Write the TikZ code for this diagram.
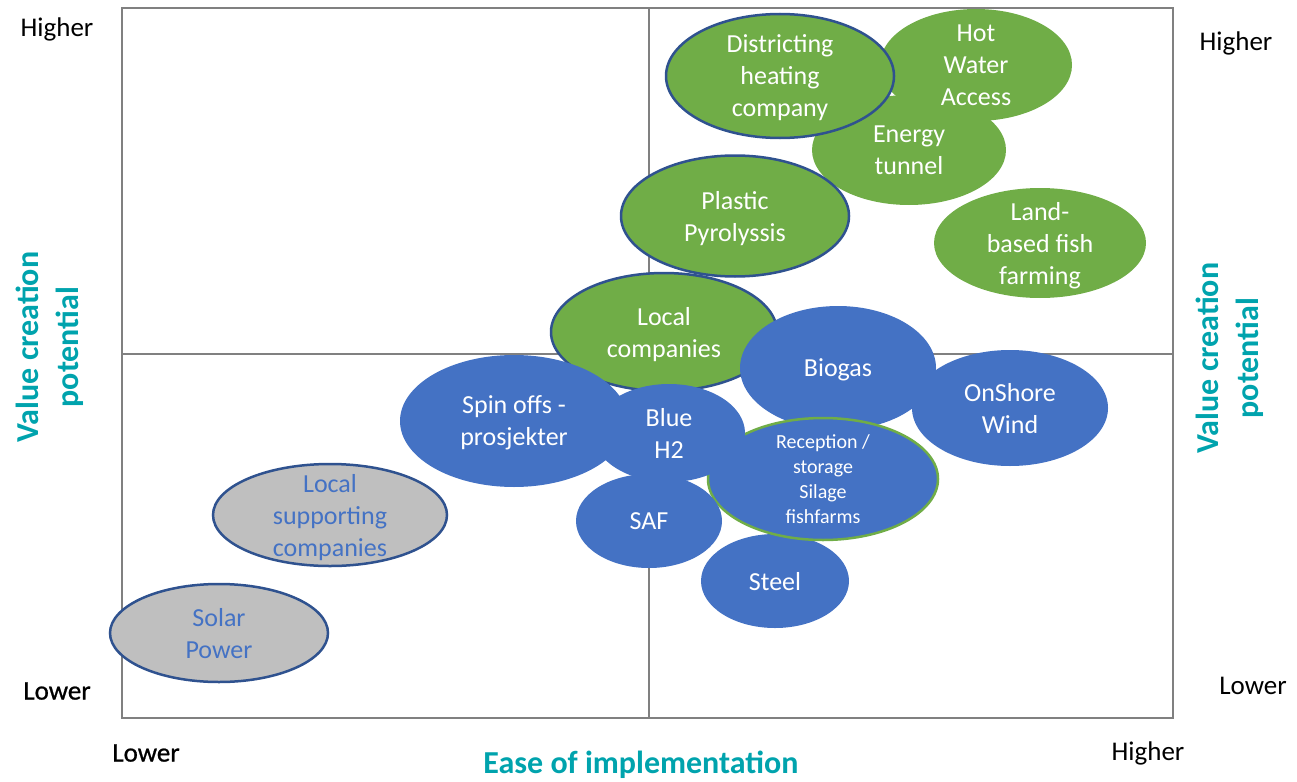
\documentclass[tikz,border=0pt]{standalone}
\usepackage{fontspec}
\setmainfont{Carlito}
\usepackage{tikz}
\usetikzlibrary{shapes.geometric}
\definecolor{bubblegreen}{RGB}{112,173,71}
\definecolor{bubbleblue}{RGB}{68,114,196}
\definecolor{bubbleedge}{RGB}{47,82,143}
\definecolor{bubblegrey}{RGB}{191,191,191}
\definecolor{titlecolor}{RGB}{0,163,173}
\definecolor{framecolor}{RGB}{128,128,128}
\tikzset{
    bubble/.style={ellipse, inner sep=-12pt, align=center, text=white, text depth=-4pt,
        font=\fontsize{26}{32}\selectfont},
    green bubble/.style={bubble, fill=bubblegreen},
    blue bubble/.style={bubble, fill=bubbleblue},
    grey bubble/.style={bubble, fill=bubblegrey, draw=bubbleedge, line width=2.5pt, text=bubbleblue},
    outlined/.style={draw=bubbleedge, line width=2.5pt},
    small text/.style={font=\fontsize{20}{25}\selectfont},
    level label/.style={font=\fontsize{27}{32}\selectfont},
    heavy label/.style={font=\fontsize{27}{32}\selectfont\addfontfeature{FakeBold=0.8}},
    axis title/.style={font=\bfseries\fontsize{32}{40}\selectfont, text=titlecolor, align=center},
    frame line/.style={draw=framecolor, line width=2pt}
}

\begin{document}
\begin{tikzpicture}[x=1pt, y=-1pt]
    \useasboundingbox (0,0) rectangle (1297,781);

    % Quadrant frame
    \draw[frame line] (122,8) rectangle (1173,718);
    \draw[frame line] (649,8) -- (649,718);
    \draw[frame line] (122,354) -- (1173,354);

    % Upper right quadrant
    \node[green bubble, minimum width=194, minimum height=110] (tunnel) at (909,150) {Energy\\tunnel};
    \node[green bubble, minimum width=192, minimum height=112] (hotwater) at (976,65) {Hot\\Water\\Access};
    \node[green bubble, outlined, minimum width=228, minimum height=124] (district) at (780,76) {Districting\\heating\\company};
    \node[green bubble, outlined, minimum width=228, minimum height=121] (pyrolysis) at (735,216) {Plastic\\Pyrolyssis};
    \node[green bubble, minimum width=212, minimum height=110] (fishfarm) at (1040,243) {Land-\\based fish\\farming};
    \node[green bubble, outlined, minimum width=226, minimum height=118] (localco) at (664,332) {Local\\companies};

    % Middle cluster
    \node[blue bubble, minimum width=196, minimum height=124] (biogas) at (838,368) {Biogas};
    \node[blue bubble, minimum width=196, minimum height=116] (wind) at (1010,408) {OnShore\\Wind};
    \node[blue bubble, minimum width=228, minimum height=132] (spinoff) at (514,421) {Spin offs -\\prosjekter};
    \node[blue bubble, minimum width=148, minimum height=94] (steel) at (775,581) {Steel};
    \node[blue bubble, small text, draw=bubblegreen, line width=2.5pt, minimum width=230, minimum height=122] (silage) at (823,479) {Reception /\\storage\\Silage\\fishfarms};
    \node[blue bubble, minimum width=152, minimum height=98] (blueh2) at (669,433) {Blue\\H2};
    \node[blue bubble, minimum width=146, minimum height=94] (saf) at (649,521) {SAF};

    % Lower left quadrant
    \node[grey bubble, minimum width=234, minimum height=102] (support) at (330,515) {Local\\supporting\\companies};
    \node[grey bubble, minimum width=218, minimum height=98] (solar) at (219,633) {Solar\\Power};

    % Level labels
    \node[level label] (highL) at (57,29) {Higher};
    \node[level label] (highR) at (1236,43) {Higher};
    \node[heavy label] (lowL) at (57,691) {Lower};
    \node[level label] (lowR) at (1253,686) {Lower};
    \node[heavy label] (lowX) at (146,753) {Lower};
    \node[level label] (highX) at (1148,753) {Higher};

    % Axis titles
    \node[axis title, rotate=90] (valueL) at (50,347) {Value creation\\potential};
    \node[axis title, rotate=90] (valueR) at (1230,358) {Value creation\\potential};
    \node[axis title] (ease) at (641,765) {Ease of implementation};
\end{tikzpicture}
\end{document}
